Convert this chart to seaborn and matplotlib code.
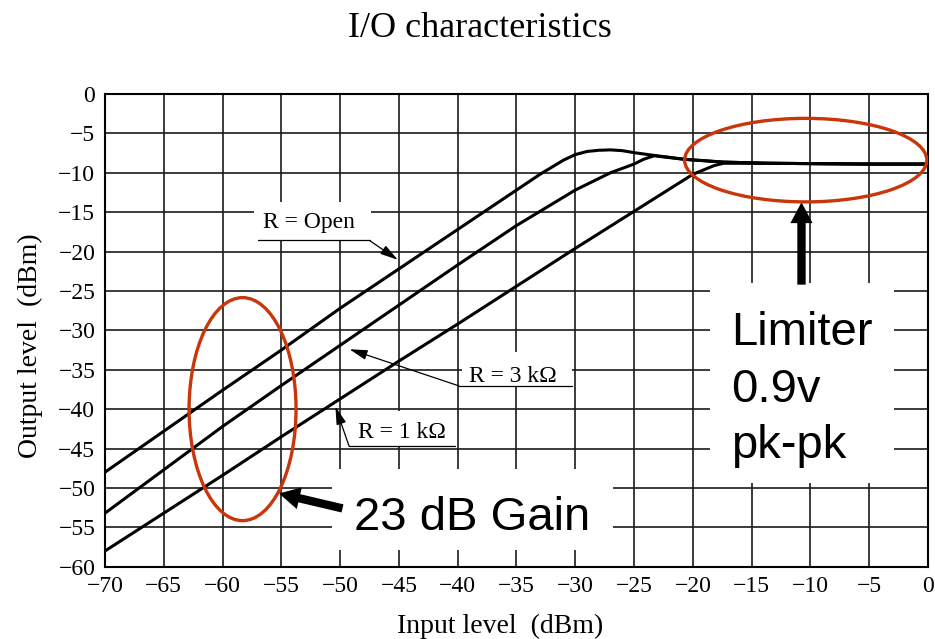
import pandas as pd
import seaborn as sns
import matplotlib.pyplot as plt
from matplotlib.patches import Ellipse, Rectangle

# I/O curves (input dBm -> output dBm)
open_x = [-70, -60, -55, -50, -45, -40, -35, -33, -31, -30, -29, -28, -27, -26, -25, -23.3, -20.7, -17.4, -13.6, -5, 0]
open_y = [-48, -37.6, -32.5, -27.2, -22.2, -17.2, -12.2, -10.2, -8.4, -7.7, -7.3, -7.15, -7.1, -7.2, -7.45, -7.8, -8.3, -8.65, -8.8, -8.9, -8.9]

r3k_x = [-70, -60, -55, -50, -45, -40, -35, -30, -27, -25, -24.2, -23.3, -20.7, -17.4, -13.6, -5, 0]
r3k_y = [-53.2, -42.2, -37.0, -31.9, -26.8, -21.7, -16.7, -12.2, -10.0, -8.9, -8.3, -7.85, -8.3, -8.65, -8.8, -8.9, -8.9]

r1k_x = [-70, -60, -55, -50, -45, -40, -35, -30, -25, -20, -18.2, -17.4, -13.6, -5, 0]
r1k_y = [-58, -48.4, -43.5, -38.7, -33.9, -29.2, -24.4, -19.6, -14.9, -10.2, -9.1, -8.8, -8.8, -8.9, -8.9]

curve_names = ['R = Open', 'R = 3 kΩ', 'R = 1 kΩ']
x_ticks = list(range(-70, 1, 5))
y_ticks = list(range(-60, 1, 5))

# Build long-form table for seaborn
df = pd.concat([
    pd.DataFrame({'input': open_x, 'output': open_y, 'R': curve_names[0]}),
    pd.DataFrame({'input': r3k_x, 'output': r3k_y, 'R': curve_names[1]}),
    pd.DataFrame({'input': r1k_x, 'output': r1k_y, 'R': curve_names[2]}),
])

sns.set_theme(style='white')
plt.rcParams['font.family'] = ['Liberation Serif', 'DejaVu Serif']
plt.rcParams['text.color'] = 'black'
plt.rcParams['xtick.color'] = 'black'
plt.rcParams['ytick.color'] = 'black'

fig = plt.figure(figsize=(9.35, 6.39), dpi=100)
ax = fig.add_axes([0.1123, 0.1131, 0.8802, 0.7399])

sns.lineplot(data=df, x='input', y='output', hue='R', palette=['black'] * 3,
             estimator=None, sort=False, lw=2.2, legend=False, ax=ax, zorder=3)

ax.set_xlim(-70, 0)
ax.set_ylim(-60, 0)
ax.set_xticks(x_ticks)
ax.set_yticks(y_ticks)
ax.grid(True, color='#1a1a1a', lw=1.2)
ax.tick_params(length=0, pad=7, labelsize=17, colors='black')
ax.set_xlabel('')
ax.set_ylabel('')
for s in ax.spines.values():
    s.set_color('black')
    s.set_linewidth(1.5)

# white boxes behind the labels (they blank out the grid)
boxes = [(-57.3, -18.7, 9.9, 5.0), (-39.65, -37.05, 9.35, 4.25), (-49.0, -44.7, 8.8, 4.4),
         (-50.7, -57.9, 23.9, 10.3), (-18.55, -49.4, 15.65, 25.4)]
for bx, by, bw, bh in boxes:
    ax.add_patch(Rectangle((bx, by), bw, bh, facecolor='white', edgecolor='none', zorder=2.5))

thin = dict(arrowstyle='-|>,head_width=0.25,head_length=0.9', color='black',
            lw=0.9, mutation_scale=12, shrinkA=0, shrinkB=0)
thick = dict(arrowstyle='simple,head_width=0.8,head_length=0.75,tail_width=0.3',
             color='black', lw=0, mutation_scale=20, shrinkA=0, shrinkB=0)

# curve labels with leader lines
ax.text(-56.6, -17.05, 'R = Open', fontsize=17, zorder=4)
ax.plot([-57.0, -47.5], [-18.6, -18.6], color='black', lw=0.9, zorder=4)
ax.annotate('', xy=(-45.1, -21.05), xytext=(-47.5, -18.6), arrowprops=thin, zorder=4)

ax.text(-39.07, -36.55, 'R = 3 kΩ', fontsize=17, zorder=4)
ax.plot([-30.3, -39.9], [-37.05, -37.05], color='black', lw=0.9, zorder=4)
ax.annotate('', xy=(-49.2, -32.4), xytext=(-39.9, -37.05), arrowprops=thin, zorder=4)

ax.text(-48.47, -43.7, 'R = 1 kΩ', fontsize=17, zorder=4)
ax.plot([-40.2, -49.24], [-44.7, -44.7], color='black', lw=0.9, zorder=4)
ax.annotate('', xy=(-50.4, -39.7), xytext=(-49.24, -44.7), arrowprops=thin, zorder=4)

# red call-out ellipses
red = '#c8360a'
ax.add_patch(Ellipse((-58.3, -40.0), 9.1, 28.3, fill=False, edgecolor=red, lw=2.4, zorder=5))
ax.add_patch(Ellipse((-10.4, -8.4), 20.6, 10.6, fill=False, edgecolor=red, lw=2.4, zorder=5))

# big slide annotations
ax.text(-48.8, -55.37, '23 dB Gain', fontsize=34, family='Liberation Sans', zorder=4)
ax.annotate('', xy=(-55.2, -50.7), xytext=(-49.8, -52.6), arrowprops=thick, zorder=4)

ax.text(-16.78, -46.26, 'Limiter\n0.9v\npk-pk', fontsize=34, family='Liberation Sans',
        va='baseline', linespacing=1.38, zorder=4)
ax.annotate('', xy=(-10.76, -13.75), xytext=(-10.76, -24.2), arrowprops=thick, zorder=4)

fig.text(480 / 935, 1 - 37 / 639, 'I/O characteristics', ha='center', va='baseline', fontsize=26)
fig.text(500 / 935, 1 - 633 / 639, 'Input level  (dBm)', ha='center', va='baseline', fontsize=20)
fig.text(30 / 935, 1 - 346 / 639, 'Output level  (dBm)', ha='center', va='center',
         rotation=90, fontsize=20)

fig.savefig('out.png', dpi=100, facecolor='white')
